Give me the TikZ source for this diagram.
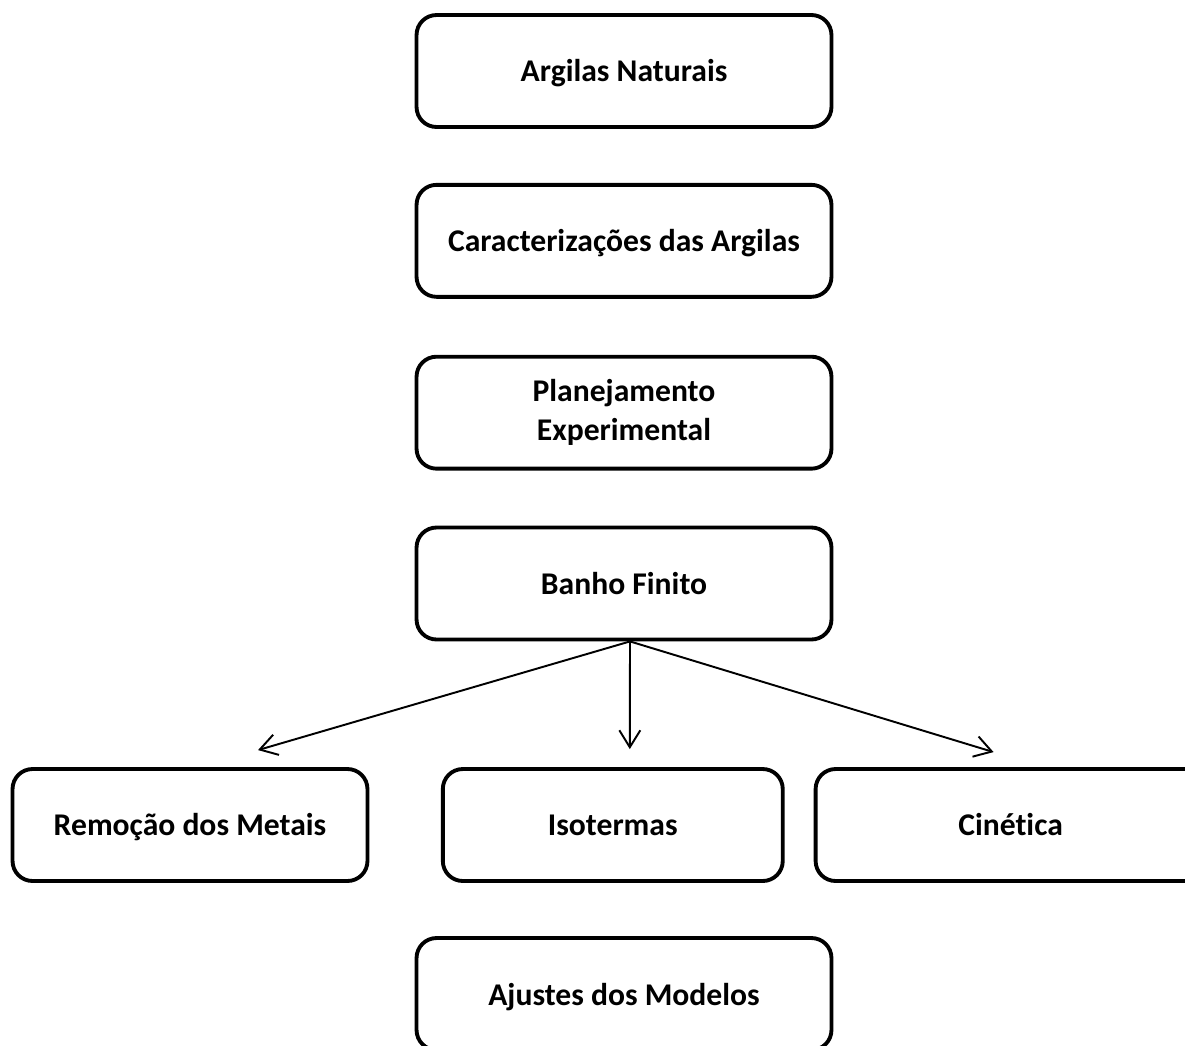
\documentclass[tikz,border=0pt]{standalone}
\usepackage{fontspec}
\setmainfont{Carlito}[Ligatures=NoCommon]
\usetikzlibrary{arrows.meta,positioning}

\begin{document}
\begin{tikzpicture}[x=0.02cm, y=-0.02cm,
    stepbox/.style={draw, line width=2.2pt, rounded corners=0.4cm, align=center, minimum width=8.3cm, minimum height=2.24cm, inner sep=0pt, font=\fontsize{18}{22}\selectfont\bfseries},
    onerow/.style={stepbox, text height=15pt, text depth=2.5pt},
    arr/.style={-{Straight Barb[length=0.34cm, width=0.42cm]}, line width=1.1pt}
]
\useasboundingbox (0,0) rectangle (1185,1045);
\clip (0,0) rectangle (1185,1045);
\node[onerow] (argilas) at (624,71) {Argilas Naturais};
\node[onerow, below=1.08cm of argilas] (caract) {Caracterizações das Argilas};
\node[stepbox, below=1.12cm of caract] (planej) {Planejamento\\Experimental};
\node[onerow, below=1.1cm of planej] (banho) {Banho Finito};
\node[onerow, minimum width=7.1cm] (remocao) at (190,825) {Remoção dos Metais};
\node[onerow, minimum width=6.8cm, right=1.43cm of remocao] (isotermas) {Isotermas};
\node[onerow, minimum width=7.8cm, right=0.58cm of isotermas] (cinetica) {Cinética};
\node[onerow] (ajustes) at (624,994) {Ajustes dos Modelos};
% arrow ends just above the lower boxes
\coordinate (banho-out) at ([xshift=0.12cm]banho.south);
\coordinate (remocao-in) at ([shift={(68,-17)}]remocao.north);
\coordinate (isotermas-in) at ([shift={(17,-18)}]isotermas.north);
\coordinate (cinetica-in) at ([shift={(-17,-15)}]cinetica.north);
\draw[arr] (banho-out) -- (remocao-in);
\draw[arr] (banho-out) -- (isotermas-in);
\draw[arr] (banho-out) -- (cinetica-in);
\end{tikzpicture}
\end{document}
